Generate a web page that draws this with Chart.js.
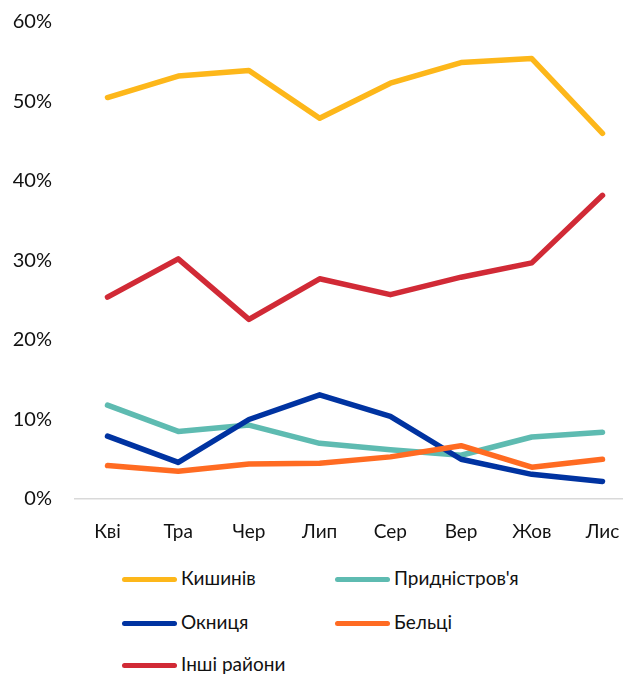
<!DOCTYPE html>
<html>
<head>
<meta charset="utf-8">
<script src="https://cdn.jsdelivr.net/npm/chart.js@4.4.0/dist/chart.umd.min.js"></script>
<style>
  body { margin: 0; background: #fff; font-family: Lato, "Open Sans", sans-serif; }
  #wrap { position: relative; width: 623px; height: 677px; }
  #box { position: absolute; left: 0; top: 0; width: 623px; height: 549px; }
  .item { position: absolute; font-size: 19px; color: #111; line-height: 20px; white-space: nowrap; }
  .item span.sw { display: inline-block; width: 55px; height: 5px; border-radius: 3px; vertical-align: middle; margin-right: 4px; position: relative; top: -1px; }
</style>
</head>
<body>
<div id="wrap">
  <div id="box"><canvas id="myChart"></canvas></div>
  <div id="legend"></div>
</div>
<script>
// місяці
var months = ['Кві', 'Тра', 'Чер', 'Лип', 'Сер', 'Вер', 'Жов', 'Лис'];

var chisinau = [50.5, 53.2, 53.9, 47.9, 52.3, 54.9, 55.4, 46.0];
var pridnestr = [11.8, 8.5, 9.3, 7.0, 6.2, 5.5, 7.8, 8.4];
var ocnita = [7.9, 4.6, 10.0, 13.1, 10.4, 5.0, 3.1, 2.2];
var balti = [4.2, 3.5, 4.4, 4.5, 5.3, 6.7, 4.0, 5.0];
var others = [25.4, 30.2, 22.6, 27.7, 25.7, 27.9, 29.7, 38.2];

var yTicks = [0, 10, 20, 30, 40, 50, 60];

var series = [
    { label: 'Кишинів', data: chisinau, color: '#FDB71A' },
    { label: 'Придністров\'я', data: pridnestr, color: '#5EBBB1' },
    { label: 'Окниця', data: ocnita, color: '#0033A1' },
    { label: 'Бельці', data: balti, color: '#FF6B22' },
    { label: 'Інші райони', data: others, color: '#D12A36' }
];

var datasets = series.map(function (s, k) {
    return {
        label: s.label,
        data: s.data.map(function (v, i) { return { x: i, y: v }; }),
        borderColor: s.color,
        backgroundColor: s.color,
        borderWidth: 5.5,
        pointRadius: 0,
        borderCapStyle: 'round',
        borderJoinStyle: 'round',
        tension: 0,
        order: 5 - k
    };
});

var ctx = document.getElementById('myChart').getContext('2d');
new Chart(ctx, {
    type: 'line',
    data: { datasets: datasets },
    options: {
        responsive: true,
        maintainAspectRatio: false,
        animation: false,
        layout: { padding: { top: 22, left: 0, right: 0, bottom: 0 } },
        plugins: { legend: { display: false }, tooltip: { enabled: false } },
        scales: {
            x: {
                type: 'linear',
                min: -0.474,
                max: 7.29,
                border: { display: false },
                grid: { display: false },
                afterFit: function (scale) {
                    scale.height = 50;
                    scale.paddingLeft = 0;
                    scale.paddingRight = 0;
                },
                afterBuildTicks: function (scale) {
                    scale.ticks = months.map(function (m, i) { return { value: i }; });
                },
                ticks: {
                    padding: 13,
                    color: '#111',
                    font: { family: 'Lato, "Open Sans", sans-serif', size: 19 },
                    callback: function (v) { return months[v]; },
                    maxRotation: 0,
                    autoSkip: false
                }
            },
            y: {
                min: 0,
                max: 60,
                border: { display: false },
                afterFit: function (scale) {
                    scale.width = 74;
                    scale.paddingTop = 0;
                    scale.paddingBottom = 0;
                },
                afterBuildTicks: function (scale) {
                    scale.ticks = yTicks.map(function (v) { return { value: v }; });
                },
                grid: {
                    drawTicks: false,
                    lineWidth: 1.5,
                    color: function (c) { return c.tick && c.tick.value === 0 ? '#D9D9D9' : 'rgba(0,0,0,0)'; }
                },
                ticks: {
                    padding: 22,
                    color: '#111',
                    font: { family: 'Lato, "Open Sans", sans-serif', size: 20 },
                    callback: function (v) { return v + '%'; }
                }
            }
        }
    }
});

// легенда у дві колонки
var legendPos = [[122, 578], [335, 578], [122, 622], [335, 622], [122, 664]];
var lg = document.getElementById('legend');
series.forEach(function (s, k) {
    var d = document.createElement('div');
    d.className = 'item';
    d.style.left = legendPos[k][0] + 'px';
    d.style.top = (legendPos[k][1] - 10) + 'px';
    d.innerHTML = '<span class="sw" style="background:' + s.color + '"></span>' + s.label;
    lg.appendChild(d);
});
</script>
</body>
</html>
